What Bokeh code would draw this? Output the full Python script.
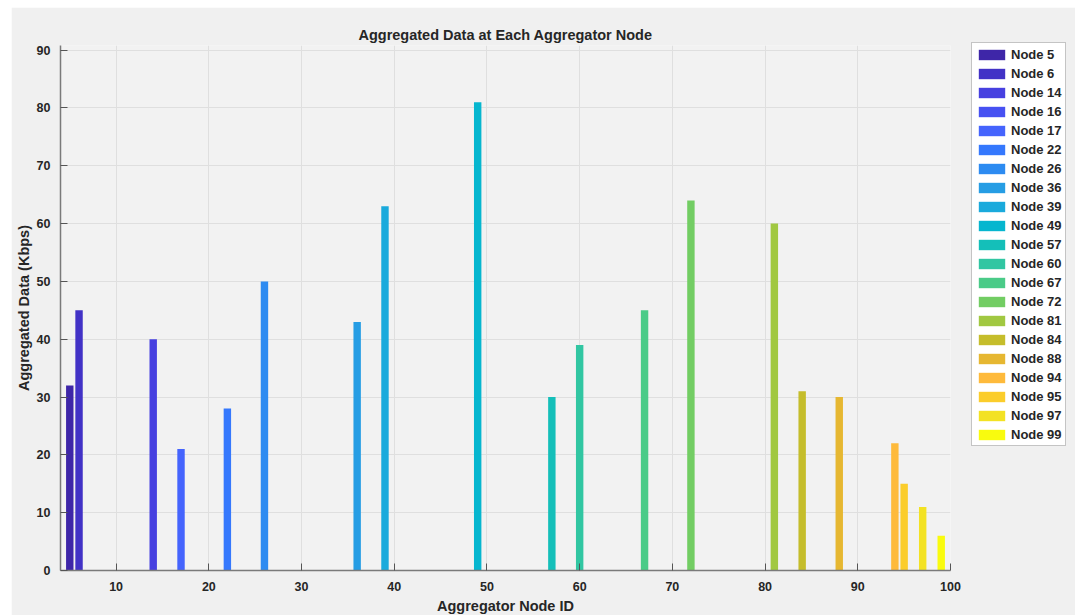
from bokeh.plotting import figure
from bokeh.models import (ColumnDataSource, Range1d, SingleIntervalTicker, Legend,
                          LegendItem, Spacer)
from bokeh.layouts import row, column
from bokeh.embed import file_html
from bokeh.resources import INLINE

# ---- data ----
nodes = [5, 6, 14, 16, 17, 22, 26, 36, 39, 49, 57, 60, 67, 72, 81, 84, 88, 94, 95, 97, 99]
values = [32, 45, 40, 0, 21, 28, 50, 43, 63, 81, 30, 39, 45, 64, 60, 31, 30, 22, 15, 11, 6]
colors = ["#3e26a8", "#4232c6", "#4740e0", "#4751f2", "#4564fd", "#3578fd", "#2d8bf1",
          "#269de4", "#1aaadc", "#06b6cf", "#14bfb9", "#31c6a2", "#4acb88", "#72cd63",
          "#a1c841", "#c5bd2b", "#e6b731", "#feba3b", "#fbcd2b", "#f3e223", "#f9fb0e"]
labels = ["Node %d" % n for n in nodes]

FONT = "Liberation Sans"
TXT = "#262626"

src = ColumnDataSource(dict(x=nodes, top=values, color=colors, label=labels))

p = figure(frame_width=890, frame_height=525, output_backend="svg", toolbar_location=None,
           x_range=Range1d(4, 100), y_range=Range1d(0, 90.8),
           min_border_left=49, min_border_right=118, min_border_top=38, min_border_bottom=38,
           background_fill_color="#f2f2f2", border_fill_color="#f0f0f0",
           outline_line_color=None)

r = p.vbar(x="x", top="top", width=0.8, bottom=0, fill_color="color", line_color=None, source=src)

p.title.text = "Aggregated Data at Each Aggregator Node"
p.title.align = "center"
p.title.text_font = FONT
p.title.text_font_size = "14.5px"
p.title.text_font_style = "bold"
p.title.text_color = TXT
p.title.standoff = 6

for ax in (p.xaxis[0], p.yaxis[0]):
    ax.ticker = SingleIntervalTicker(interval=10)
    ax.axis_line_color = "#7a7a7a"
    ax.axis_line_width = 1.5
    ax.major_tick_in = 7
    ax.major_tick_out = 0
    ax.major_tick_line_color = "#555555"
    ax.minor_tick_line_color = None
    ax.major_label_text_font = FONT
    ax.major_label_text_font_size = "12.5px"
    ax.major_label_text_font_style = "bold"
    ax.major_label_text_color = TXT
    ax.axis_label_text_font = FONT
    ax.axis_label_text_font_size = "14.5px"
    ax.axis_label_text_font_style = "bold"
    ax.axis_label_text_color = TXT

p.xaxis.axis_label = "Aggregator Node ID"
p.yaxis.axis_label = "Aggregated Data (Kbps)"
p.xaxis.major_label_standoff = 7
p.xaxis.axis_label_standoff = 4
p.yaxis.major_label_standoff = 6
p.yaxis.axis_label_standoff = 2

p.xgrid.ticker = SingleIntervalTicker(interval=10)
p.ygrid.ticker = SingleIntervalTicker(interval=10)
p.grid.grid_line_color = "#dfdfdf"
p.grid.grid_line_width = 1

items = [LegendItem(label=labels[i], renderers=[r], index=i) for i in range(len(nodes))]
legend = Legend(items=items, location=(21, 124), orientation="vertical",
                label_text_font=FONT, label_text_font_size="13px",
                label_text_font_style="bold", label_text_color=TXT,
                glyph_width=33, glyph_height=13, label_height=16, label_standoff=3,
                spacing=3, padding=3, margin=0,
                border_line_color="#8a8a8a", border_line_width=1,
                background_fill_color="white", background_fill_alpha=1)
p.add_layout(legend, "right")

layout = row(Spacer(width=11, height=615), column(Spacer(width=1057, height=7), p))

open("out.html", "w").write(file_html(layout, INLINE))
